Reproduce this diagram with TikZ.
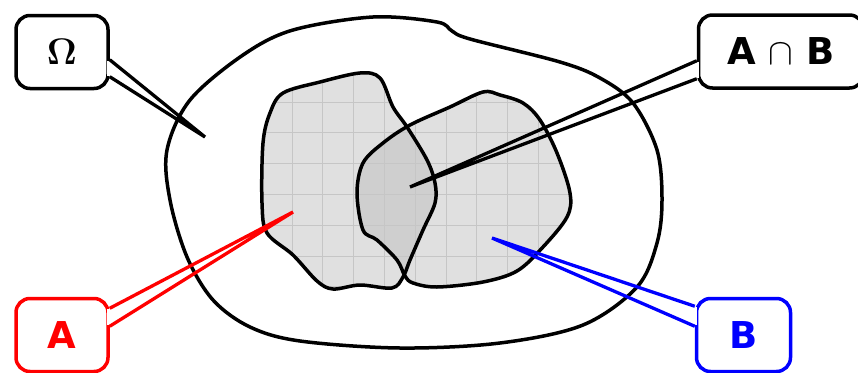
\RequirePackage{fix-cm}
\documentclass[tikz,border=0pt]{standalone}
\usepackage{amsmath}
\usepackage[no-math]{fontspec}
\newfontfamily\vennfont{DejaVu Sans}
\usetikzlibrary{calc}
\definecolor{vennred}{HTML}{FF0000}
\definecolor{vennblue}{HTML}{0000FF}
\definecolor{vennfill}{HTML}{E0E0E0}
\definecolor{venncap}{HTML}{CFCFCF}
\definecolor{venngrid}{HTML}{C6C6C6}

\tikzset{
  labelbox/.style={draw, line width=3.5pt, rounded corners=14pt,
    minimum width=92pt, minimum height=73pt,
    font=\fontsize{37}{40}\selectfont\vennfont\bfseries},
  wedge/.style={line width=3.3pt},
  blob/.style={line width=3.5pt},
  gridline/.style={venngrid, line width=0.8pt},
}

\begin{document}
\begin{tikzpicture}[x=1pt, y=-1pt, every node/.style={inner sep=0pt}]
  \useasboundingbox (0,0) rectangle (858,372);
  \def\outerpath{plot[smooth cycle, tension=0.55] coordinates {
      (167,150) (170,200) (187,257) (213,300) (250,327) (300,341)
      (400,348) (500,343) (583,325) (637,287) (657,243) (662,200)
      (657,150) (633,103) (600,78) (560,62) (470,39) (452,31)
      (437,22) (373,17) (293,30) (243,55) (190,100)}}
  \def\setApath{plot[smooth cycle, tension=0.55] coordinates {
      (283,93) (320,82) (360,73) (380,78) (393,107) (407,127)
      (427,160) (435,183) (435,203) (423,230) (410,260) (403,277)
      (392,288) (360,285) (333,289) (317,281) (293,255) (267,233)
      (262,203) (263,143) (270,113)}}
  \def\setBpath{plot[smooth cycle, tension=0.55] coordinates {
      (410,125) (450,107) (483,92) (500,95) (523,103) (540,120)
      (557,153) (570,193) (567,217) (543,247) (517,271) (483,282)
      (437,287) (413,283) (405,276) (397,260) (377,240) (363,230)
      (357,193) (363,163) (383,143)}}

  % universe
  \draw[blob] \outerpath;

  % the two sets
  \fill[vennfill] \setApath;
  \fill[vennfill] \setBpath;
  \begin{scope}
    \clip \setApath;
    \fill[venncap] \setBpath;
  \end{scope}
  \foreach \p in {\setApath, \setBpath} {
    \begin{scope}
      \clip \p;
      \foreach \x in {261.2,292,...,572} \draw[gridline] (\x,60) -- (\x,300);
      \foreach \y in {71.2,102,...,300} \draw[gridline] (250,\y) -- (580,\y);
    \end{scope}
  }
  \draw[blob] \setApath;
  \draw[blob] \setBpath;

  % tips of the pointers
  \coordinate (omegaTip) at (205,137);
  \coordinate (capTip) at (410,187);
  \coordinate (setATip) at (293,212);
  \coordinate (setBTip) at (492,238);

  % callouts
  \node[labelbox] (omega) at (62,52) {$\mathbf{\Omega}$};
  \draw[white, line width=5pt] ($(omega.south east)+(0,-29.5)$) -- ($(omega.south east)+(0,-14.5)$);
  \draw[wedge] ($(omega.south east)+(0,-30.5)$) -- (omegaTip) -- ($(omega.south east)+(0,-13.5)$);

  \node[labelbox, minimum width=165pt] (cap) at (781,51.5) {A $\cap$ B};
  \draw[white, line width=5pt] ($(cap.south west)+(0,-28)$) -- ($(cap.south west)+(0,-12)$);
  \draw[wedge] ($(cap.south west)+(0,-29)$) -- (capTip) -- ($(cap.south west)+(0,-11)$);

  \node[labelbox, vennred] (setA) at (62,335) {A};
  \draw[white, line width=5pt] ($(setA.north east)+(0,12.5)$) -- ($(setA.north east)+(0,28.5)$);
  \draw[wedge, vennred] ($(setA.north east)+(0,11.5)$) -- (setATip) -- ($(setA.north east)+(0,29.5)$);

  \node[labelbox, vennblue, minimum width=94pt] (setB) at (743.5,335) {B};
  \draw[white, line width=5pt] ($(setB.north west)+(0,10.5)$) -- ($(setB.north west)+(0,28.5)$);
  \draw[wedge, vennblue] ($(setB.north west)+(0,9.5)$) -- (setBTip) -- ($(setB.north west)+(0,29.5)$);
\end{tikzpicture}
\end{document}
